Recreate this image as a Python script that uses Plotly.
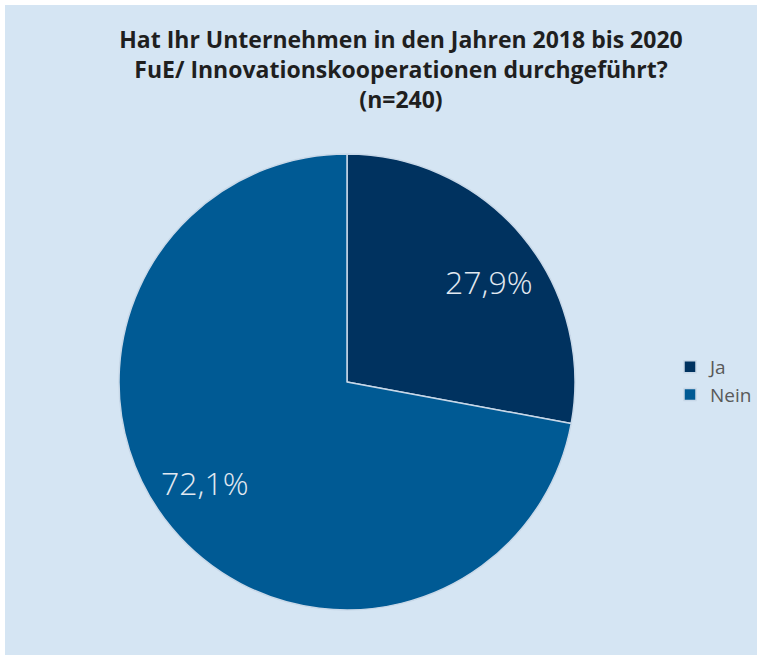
import math
import plotly.graph_objects as go

W, H = 757, 655
labels = ["Ja", "Nein"]
counts = [67, 173]  # n=240 -> 27,9% / 72,1%
colors = ["#00325f", "#005a94"]
title_lines = ["Hat Ihr Unternehmen in den Jahren 2018 bis 2020",
               "FuE/ Innovationskooperationen durchgeführt?",
               "(n=240)"]

# pie geometry (pixels)
CX, CY, R = 347, 382, 228

fig = go.Figure(go.Pie(
    labels=labels, values=counts, sort=False, direction="clockwise", rotation=0,
    marker=dict(colors=colors, line=dict(color="#c8d8e8", width=1.5)),
    textinfo="none",
    hoverinfo="label+percent",
    domain=dict(x=[(CX - R)/W, (CX + R)/W], y=[(H - CY - R)/H, (H - CY + R)/H]),
))

# percentage labels placed at the slice mid-angles
total = sum(counts)
annotations = []
start = 0.0
for c in counts:
    frac = c / total
    mid = (start + frac / 2) * 360 + 4.5
    start += frac
    th = math.radians(mid)
    px = CX + 0.76 * R * math.sin(th)
    py = CY - 0.76 * R * math.cos(th)
    txt = f"{frac*100:.1f}%".replace(".", ",")
    annotations.append(dict(x=px / W, y=1 - py / H, xref="paper", yref="paper",
                            text=txt, showarrow=False, xanchor="center", yanchor="middle",
                            font=dict(family="Open Sans", size=32, color="#e2e9f1", weight=300)))

fig.update_layout(
    width=W, height=H,
    margin=dict(l=0, r=0, t=0, b=0, autoexpand=False),
    paper_bgcolor="white",
    separators=",.",
    shapes=[dict(type="rect", xref="paper", yref="paper", x0=5/W, x1=1, y0=0, y1=1-5/H,
                 fillcolor="#d5e5f3", line=dict(width=0), layer="below")],
    title=dict(text="<br>".join(title_lines), x=401/W, xanchor="center", y=1-48/H, yanchor="top",
               font=dict(family="Open Sans", size=23, color="#1f1f1f", weight="bold")),
    legend=dict(x=1, y=(H-348)/H, xanchor="right", yanchor="top",
                font=dict(family="Open Sans", size=19, color="#595959"),
                bgcolor="rgba(0,0,0,0)", itemwidth=30),
    annotations=annotations,
    showlegend=True,
)

fig.write_html("out.html", config={"displayModeBar": False},
               post_script=("document.documentElement.style.margin='0';"
                            "document.documentElement.style.overflow='hidden';"
                            "document.body.style.margin='0';"
                            "document.body.style.overflow='hidden';"))
